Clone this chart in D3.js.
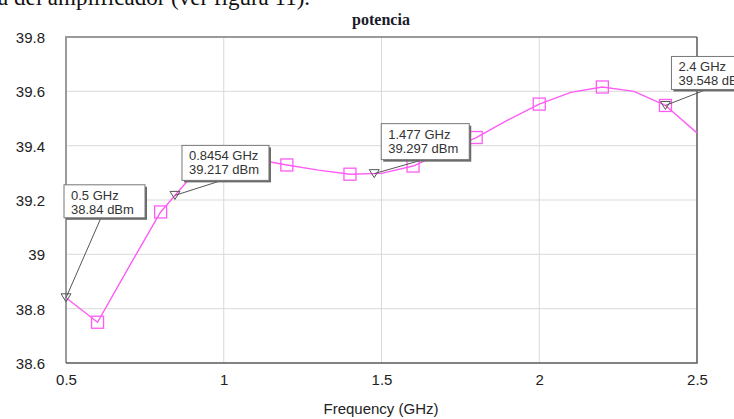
<!DOCTYPE html>
<html>
<head>
<meta charset="utf-8">
<script src="https://cdn.jsdelivr.net/npm/d3@7/dist/d3.min.js"></script>
<style>
  html, body { margin: 0; padding: 0; background: #fff; }
  svg { display: block; }
</style>
</head>
<body>
<svg id="chart" width="734" height="419"></svg>
<script>
// Simulated output power vs. frequency (0.1 GHz sweep step)
const freqGHz  = [0.5, 0.6, 0.7, 0.8, 0.9, 1.0, 1.1, 1.2, 1.3, 1.4, 1.5,
                  1.6, 1.7, 1.8, 1.9, 2.0, 2.1, 2.2, 2.3, 2.4, 2.5];
const powerDbm = [38.84, 38.75, 38.955, 39.156, 39.29, 39.338, 39.35, 39.329, 39.31, 39.295, 39.298,
                  39.325, 39.377, 39.43, 39.494, 39.553, 39.596, 39.616, 39.6, 39.548, 39.447];

// Frequencies that carry a square symbol
const symbolFreq = [0.6, 0.8, 1.0, 1.2, 1.4, 1.6, 1.8, 2.0, 2.2, 2.4];

// Marker readouts
const markerFreq = [0.5, 0.8454, 1.477, 2.4];
const markerVal  = [38.84, 39.217, 39.297, 39.548];

// Axis ticks
const xTicks = [0.5, 1, 1.5, 2, 2.5];
const yTicks = [38.6, 38.8, 39, 39.2, 39.4, 39.6, 39.8];

const svg = d3.select("#chart");
const plot = { left: 66, right: 697, top: 37, bottom: 363 };

const x = d3.scaleLinear().domain([0.5, 2.5]).range([plot.left, plot.right]);
const y = d3.scaleLinear().domain([38.6, 39.8]).range([plot.bottom, plot.top]);

// Caption text from the surrounding document (partially cut off at top)
svg.append("text")
  .attr("x", -2).attr("y", 5)
  .attr("font-family", "Liberation Serif, Times New Roman, serif")
  .attr("font-size", 23).attr("fill", "#111")
  .text("a del amplificador (ver figura 11).");

// Title
svg.append("text")
  .attr("x", 381).attr("y", 25)
  .attr("text-anchor", "middle")
  .attr("font-family", "Liberation Serif, Times New Roman, serif")
  .attr("font-weight", "bold").attr("font-size", 16).attr("fill", "#1a1a2a")
  .text("potencia");

// Grid
const grid = svg.append("g").attr("stroke", "#d9d9d9").attr("stroke-width", 1);
grid.selectAll("line.v").data(xTicks.slice(1, -1)).join("line")
  .attr("x1", d => x(d)).attr("x2", d => x(d))
  .attr("y1", plot.top).attr("y2", plot.bottom);
grid.selectAll("line.h").data(yTicks.slice(1, -1)).join("line")
  .attr("x1", plot.left).attr("x2", plot.right)
  .attr("y1", d => y(d)).attr("y2", d => y(d));

// Frame: lighter top/left, darker right/bottom
svg.append("path")
  .attr("d", `M${plot.left},${plot.bottom} V${plot.top} H${plot.right}`)
  .attr("fill", "none").attr("stroke", "#9a9a9a").attr("stroke-width", 2);
svg.append("path")
  .attr("d", `M${plot.right},${plot.top} V${plot.bottom} H${plot.left}`)
  .attr("fill", "none").attr("stroke", "#5a5a5a").attr("stroke-width", 1.5);

// Axes
const xAxis = d3.axisBottom(x).tickValues(xTicks).tickSize(0).tickPadding(0)
  .tickFormat(d3.format("~g"));
const gx = svg.append("g").attr("transform", `translate(0,${plot.bottom})`).call(xAxis);
gx.select(".domain").remove();
gx.selectAll("text")
  .attr("y", 22).attr("dy", 0)
  .attr("font-family", "Liberation Sans, Arial, sans-serif")
  .attr("font-size", 15).attr("fill", "#222");

const yAxis = d3.axisLeft(y).tickValues(yTicks).tickSize(0).tickPadding(0)
  .tickFormat(d3.format("~g"));
const gy = svg.append("g").attr("transform", `translate(${plot.left},0)`).call(yAxis);
gy.select(".domain").remove();
gy.selectAll("text")
  .attr("x", -21).attr("dy", "0.36em")
  .attr("font-family", "Liberation Sans, Arial, sans-serif")
  .attr("font-size", 15).attr("fill", "#222");

// Axis title
svg.append("text")
  .attr("x", 381).attr("y", 414)
  .attr("text-anchor", "middle")
  .attr("font-family", "Liberation Sans, Arial, sans-serif")
  .attr("font-size", 15).attr("fill", "#222")
  .text("Frequency (GHz)");

// Trace
const pink = "#ff5cf5";
const pts = freqGHz.map((f, i) => [f, powerDbm[i]]);
const line = d3.line().x(d => x(d[0])).y(d => y(d[1]));
svg.append("path")
  .datum(pts)
  .attr("d", line)
  .attr("fill", "none").attr("stroke", pink).attr("stroke-width", 1.4)
  .attr("stroke-linejoin", "round");

// Square symbols
const valueAt = f => powerDbm[freqGHz.indexOf(f)];
svg.append("g").selectAll("rect").data(symbolFreq).join("rect")
  .attr("x", d => x(d) - 6).attr("y", d => y(valueAt(d)) - 6)
  .attr("width", 12).attr("height", 12)
  .attr("fill", "none").attr("stroke", pink).attr("stroke-width", 1.3);

// Marker readouts: triangle, leader line and label box
// box offset (dx, dy) of the box's top-left corner from the marker, and leader start on the box
const boxLayout = [
  { dx: -2,  dy: -113, w: 81, h: 33, lx: 37 },
  { dx: 7,   dy: -50,  w: 87, h: 35, lx: 40 },
  { dx: 7,   dy: -50,  w: 88, h: 36, lx: 42 },
  { dx: 6,   dy: -49,  w: 88, h: 33, lx: 35 }
];

const mk = svg.append("g");
markerFreq.forEach((f, i) => {
  const mx = x(f), my = y(markerVal[i]);
  const b = boxLayout[i];
  const bx = mx + b.dx, by = my + b.dy;

  // leader line
  mk.append("line")
    .attr("x1", bx + b.lx).attr("y1", by + b.h)
    .attr("x2", mx).attr("y2", my)
    .attr("stroke", "#555").attr("stroke-width", 1);

  // downward triangle
  mk.append("path")
    .attr("d", `M${mx - 5},${my - 4} L${mx + 5},${my - 4} L${mx},${my + 4} Z`)
    .attr("fill", "none").attr("stroke", "#555").attr("stroke-width", 1);

  // box with drop shadow
  mk.append("rect")
    .attr("x", bx + 2).attr("y", by + 2).attr("width", b.w).attr("height", b.h)
    .attr("fill", "#6a6a6a");
  mk.append("rect")
    .attr("x", bx).attr("y", by).attr("width", b.w).attr("height", b.h)
    .attr("fill", "#fff").attr("stroke", "#777").attr("stroke-width", 1);

  const t = mk.append("text")
    .attr("font-family", "Liberation Sans, Arial, sans-serif")
    .attr("font-size", 13).attr("fill", "#333");
  t.append("tspan").attr("x", bx + 7).attr("y", by + 15)
    .text(`${f} GHz`);
  t.append("tspan").attr("x", bx + 7).attr("y", by + 29)
    .text(`${markerVal[i]} dBm`);
});
</script>
</body>
</html>
